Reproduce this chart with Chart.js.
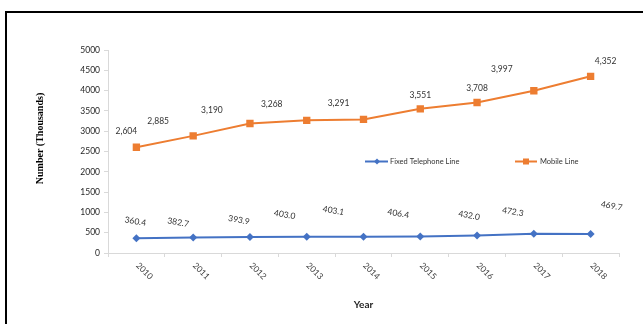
<!DOCTYPE html>
<html>
<head>
<meta charset="utf-8">
<script src="https://cdn.jsdelivr.net/npm/chart.js@4.4.1/dist/chart.umd.min.js"></script>
<style>
html,body{margin:0;padding:0;background:#fff;}
#wrap{width:643px;height:324px;}
</style>
</head>
<body>
<div id="wrap"><canvas id="c" width="643" height="324"></canvas></div>
<script>
// ---- data ----
const years = ["2010","2011","2012","2013","2014","2015","2016","2017","2018"];
const fixedLine = [360.4, 382.7, 393.9, 403.0, 403.1, 406.4, 432.0, 472.3, 469.7];
const mobileLine = [2604, 2885, 3190, 3268, 3291, 3551, 3708, 3997, 4352];
const fixedLabels = ["360.4","382.7","393.9","403.0","403.1","406.4","432.0","472.3","469.7"];
const mobileLabels = ["2,604","2,885","3,190","3,268","3,291","3,551","3,708","3,997","4,352"];
const seriesNames = ["Fixed Telephone Line", "Mobile Line"];
const xTitle = "Year";
const yTitle = "Number (Thousands)";

// ---- label placement (pixel offsets from each point, style only) ----
const fixedLabelOffsets = [[-1,-17],[-15,-15],[-11,-17],[-22,-22],[-30,-26],[-22,-23],[-8,-20],[-21,-22],[21,-28]];
const mobileLabelOffsets = [[-10,-16],[-35,-15],[-38,-13],[-35,-16],[-25,-16],[0,-14],[0,-14],[-32,-21],[15,-15]];

const BLUE = '#4472C4';
const ORANGE = '#ED7D31';
const SANS = 'Lato, "Open Sans", sans-serif';

const decorPlugin = {
  id: 'decor',
  beforeDraw(chart) {
    const ctx = chart.ctx;
    ctx.save();
    ctx.fillStyle = '#fff';
    ctx.fillRect(0, 0, chart.width, chart.height);
    ctx.strokeStyle = '#000';
    ctx.lineWidth = 2;
    ctx.strokeRect(6, 12, 700, 400);
    ctx.restore();
  },
  afterDraw(chart) {
    const ctx = chart.ctx;
    const xs = chart.scales.x;
    const ca = chart.chartArea;
    ctx.save();
    // x tick labels, rotated clockwise
    ctx.fillStyle = '#404040';
    ctx.font = '8.5px ' + SANS;
    ctx.textAlign = 'left';
    ctx.textBaseline = 'middle';
    years.forEach((y, i) => {
      const px = xs.getPixelForValue(i);
      ctx.save();
      ctx.translate(px + 1, ca.bottom + 11);
      ctx.rotate(Math.PI / 4);
      ctx.fillText(y, 0, 0);
      ctx.restore();
    });
    // axis titles
    ctx.fillStyle = '#262626';
    ctx.font = 'bold 10px ' + SANS;
    ctx.textAlign = 'center';
    ctx.textBaseline = 'middle';
    ctx.fillText(xTitle, (ca.left + ca.right) / 2, 305);
    ctx.save();
    ctx.translate(40, 138.5);
    ctx.rotate(-Math.PI / 2);
    ctx.font = 'bold 10px "Liberation Serif", "Times New Roman", serif';
    ctx.fillStyle = '#000';
    ctx.fillText(yTitle, 0, 0);
    ctx.restore();

    // data labels
    const m0 = chart.getDatasetMeta(0);
    const m1 = chart.getDatasetMeta(1);
    ctx.fillStyle = '#333';
    ctx.font = '8.5px ' + SANS;
    m1.data.forEach((p, i) => {
      const o = mobileLabelOffsets[i];
      ctx.fillText(mobileLabels[i], p.x + o[0], p.y + o[1]);
    });
    m0.data.forEach((p, i) => {
      const o = fixedLabelOffsets[i];
      ctx.save();
      ctx.translate(p.x + o[0], p.y + o[1]);
      ctx.rotate(10 * Math.PI / 180);
      ctx.fillText(fixedLabels[i], 0, 0);
      ctx.restore();
    });

    // legend (inside plot)
    const ly = 161.5;
    ctx.font = '7.5px ' + SANS;
    ctx.textAlign = 'left';
    ctx.lineWidth = 2;
    ctx.strokeStyle = BLUE;
    ctx.beginPath(); ctx.moveTo(365, ly); ctx.lineTo(388, ly); ctx.stroke();
    ctx.fillStyle = BLUE;
    ctx.beginPath();
    ctx.moveTo(377, ly - 3); ctx.lineTo(380, ly); ctx.lineTo(377, ly + 3); ctx.lineTo(374, ly);
    ctx.closePath(); ctx.fill();
    ctx.fillStyle = '#333';
    ctx.fillText(seriesNames[0], 390, ly);
    ctx.strokeStyle = ORANGE;
    ctx.beginPath(); ctx.moveTo(515, ly); ctx.lineTo(537, ly); ctx.stroke();
    ctx.fillStyle = ORANGE;
    ctx.fillRect(523, ly - 3, 6, 6);
    ctx.fillStyle = '#333';
    ctx.fillText(seriesNames[1], 540, ly);
    ctx.restore();
  }
};

new Chart(document.getElementById('c'), {
  type: 'line',
  data: {
    labels: years,
    datasets: [
      {
        label: seriesNames[0],
        data: fixedLine,
        borderColor: BLUE,
        backgroundColor: BLUE,
        borderWidth: 2,
        pointStyle: 'rectRot',
        pointRadius: 4,
        pointBorderWidth: 0,
        tension: 0
      },
      {
        label: seriesNames[1],
        data: mobileLine,
        borderColor: ORANGE,
        backgroundColor: ORANGE,
        borderWidth: 2,
        pointStyle: 'rect',
        pointRadius: 5.2,
        pointBorderWidth: 0,
        tension: 0
      }
    ]
  },
  options: {
    responsive: false,
    animation: false,
    layout: { padding: { left: 0, right: 24, top: 50, bottom: 0 } },
    plugins: { legend: { display: false }, tooltip: { enabled: false }, title: { display: false } },
    scales: {
      x: {
        type: 'category',
        offset: true,
        grid: { display: true, offset: true, drawOnChartArea: false, drawTicks: true, tickLength: 4, color: '#d9d9d9' },
        border: { display: true, color: '#d9d9d9', width: 1 },
        ticks: { display: false },
        afterFit(s) { s.height = 71; }
      },
      y: {
        min: 0,
        max: 5000,
        ticks: { stepSize: 500, padding: 4, color: '#262626', font: { family: SANS, size: 8.5 }, callback: (v) => String(v) },
        grid: { display: true, drawOnChartArea: false, drawTicks: true, tickLength: 4, color: '#d9d9d9' },
        border: { display: true, color: '#d9d9d9', width: 1 },
        afterFit(s) { s.width = 108; }
      }
    }
  },
  plugins: [decorPlugin]
});
</script>
</body>
</html>
